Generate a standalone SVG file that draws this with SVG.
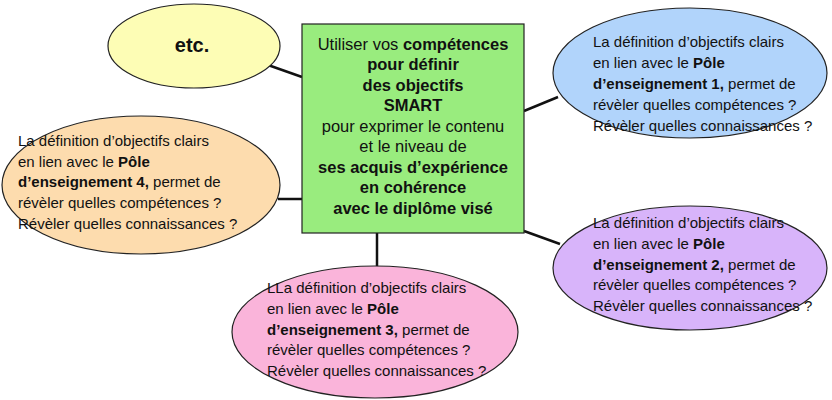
<svg xmlns="http://www.w3.org/2000/svg" width="832" height="400" viewBox="0 0 832 400">
<style>
  .t { font-family: "Liberation Sans", Arial, sans-serif; font-size: 15px; fill: #111; }
  .m { font-size: 16.5px; }
  .b { font-weight: bold; }
  .c { text-anchor: middle; }
  .node { stroke: #222; stroke-width: 1.2; }
  .conn line { stroke: #111; stroke-width: 2.5; }
</style>
<rect width="832" height="400" fill="#fff"/>
<g class="conn" id="connectors">
  <line x1="268" y1="65" x2="302" y2="77"/>
  <line x1="524" y1="111" x2="558" y2="97"/>
  <line x1="278" y1="199" x2="302" y2="199"/>
  <line x1="524" y1="231" x2="560" y2="244"/>
  <line x1="377" y1="233" x2="377" y2="267"/>
</g>
<g id="center">
  <rect class="node" x="302" y="24" width="222" height="209" fill="#99ec7e"/>
  <text class="t m c" x="413" y="50">Utiliser vos <tspan class="b">compétences</tspan></text>
  <text class="t m c b" x="413" y="70">pour définir</text>
  <text class="t m c b" x="413" y="91">des objectifs</text>
  <text class="t m c b" x="413" y="111">SMART</text>
  <text class="t m c" x="413" y="132">pour exprimer le contenu</text>
  <text class="t m c" x="413" y="152">et le niveau de</text>
  <text class="t m c b" x="413" y="173">ses acquis d’expérience</text>
  <text class="t m c b" x="413" y="193">en cohérence</text>
  <text class="t m c b" x="413" y="214">avec le diplôme visé</text>
</g>
<g id="etc">
  <ellipse class="node" cx="194" cy="46" rx="86" ry="42" fill="#fdfdb5"/>
  <text class="t c b" x="192" y="52" style="font-size:20px">etc.</text>
</g>
<g id="pole1">
  <ellipse class="node" cx="690" cy="73" rx="137" ry="65" fill="#b1d4fb"/>
  <text class="t" x="593" y="47">La définition d’objectifs clairs</text>
  <text class="t" x="593" y="68">en lien avec le <tspan class="b">Pôle</tspan></text>
  <text class="t" x="593" y="89"><tspan class="b">d’enseignement 1,</tspan> permet de</text>
  <text class="t" x="593" y="110">révèler quelles compétences ?</text>
  <text class="t" x="593" y="131">Révèler quelles connaissances ?</text>
</g>
<g id="pole4">
  <ellipse class="node" cx="141" cy="185" rx="139" ry="69" fill="#fddcae"/>
  <text class="t" x="18" y="146">La définition d’objectifs clairs</text>
  <text class="t" x="18" y="167">en lien avec le <tspan class="b">Pôle</tspan></text>
  <text class="t" x="18" y="187"><tspan class="b">d’enseignement 4,</tspan> permet de</text>
  <text class="t" x="18" y="208">révèler quelles compétences ?</text>
  <text class="t" x="18" y="229">Révèler quelles connaissances ?</text>
</g>
<g id="pole2">
  <ellipse class="node" cx="690" cy="268" rx="137" ry="62" fill="#d8b4fa"/>
  <text class="t" x="593" y="228">La définition d’objectifs clairs</text>
  <text class="t" x="593" y="249">en lien avec le <tspan class="b">Pôle</tspan></text>
  <text class="t" x="593" y="270"><tspan class="b">d’enseignement 2,</tspan> permet de</text>
  <text class="t" x="593" y="290">révèler quelles compétences ?</text>
  <text class="t" x="593" y="311">Révèler quelles connaissances ?</text>
</g>
<g id="pole3">
  <ellipse class="node" cx="375" cy="332" rx="143" ry="66" fill="#fab4da"/>
  <text class="t" x="267" y="293">LLa définition d’objectifs clairs</text>
  <text class="t" x="267" y="314">en lien avec le <tspan class="b">Pôle</tspan></text>
  <text class="t" x="267" y="335"><tspan class="b">d’enseignement 3,</tspan> permet de</text>
  <text class="t" x="267" y="355">révèler quelles compétences ?</text>
  <text class="t" x="267" y="376">Révèler quelles connaissances ?</text>
</g>
</svg>
